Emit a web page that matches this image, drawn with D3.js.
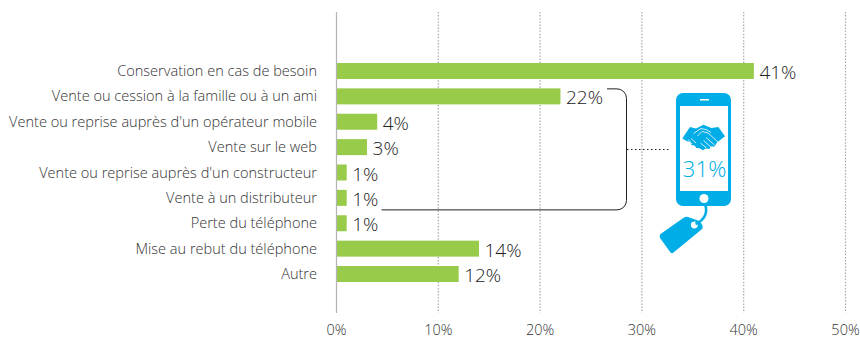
<!DOCTYPE html>
<html>
<head>
<meta charset="utf-8">
<script src="https://cdn.jsdelivr.net/npm/d3@7/dist/d3.min.js"></script>
<style>
html,body{margin:0;padding:0;background:#fff;}
svg{display:block;font-family:"Open Sans",sans-serif;}
</style>
</head>
<body>
<svg id="chart" width="860" height="338"></svg>
<script>
const categories = [
  "Conservation en cas de besoin",
  "Vente ou cession à la famille ou à un ami",
  "Vente ou reprise auprès d'un opérateur mobile",
  "Vente sur le web",
  "Vente ou reprise auprès d'un constructeur",
  "Vente à un distributeur",
  "Perte du téléphone",
  "Mise au rebut du téléphone",
  "Autre"
];
const shares = [41, 22, 4, 3, 1, 1, 1, 14, 12];
const axisTicks = [0, 10, 20, 30, 40, 50];
const groupedTotal = "31%";

const svg = d3.select("#chart");
const x = d3.scaleLinear().domain([0, 50]).range([336.5, 845.5]);
const y = d3.scaleBand().domain(categories).range([58.3, 286.7]).paddingInner(0.37).paddingOuter(0.185);

// Dotted gridlines for every tick after zero
svg.append("g").selectAll("line").data(axisTicks.slice(1)).join("line")
  .attr("x1", d => x(d)).attr("x2", d => x(d)).attr("y1", 12).attr("y2", 313)
  .attr("stroke", "#a8a8a8").attr("stroke-width", 1.2).attr("stroke-dasharray", "1.5 1.6");

// Bars
svg.append("g").selectAll("rect").data(shares).join("rect")
  .attr("x", x(0)).attr("y", (d, i) => y(categories[i]))
  .attr("width", d => x(d) - x(0)).attr("height", y.bandwidth())
  .attr("fill", "#97cb49");

// Zero baseline
svg.append("line").attr("x1", x(0)).attr("x2", x(0)).attr("y1", 12).attr("y2", 313)
  .attr("stroke", "#b4b4b4").attr("stroke-width", 1.2);

// Category labels
svg.append("g").selectAll("text").data(categories).join("text")
  .attr("x", 317).attr("y", d => y(d) + y.bandwidth() / 2 + 5)
  .attr("text-anchor", "end").attr("font-size", 14.55).attr("font-weight", 300)
  .attr("fill", "#333").text(d => d);

// Value labels
svg.append("g").selectAll("text").data(shares).join("text")
  .attr("x", d => x(d) + 5.5).attr("y", (d, i) => y(categories[i]) + y.bandwidth() / 2 + 8)
  .attr("font-size", 19).attr("font-weight", 300).attr("fill", "#222").text(d => d + "%");

// Axis tick labels
svg.append("g").selectAll("text").data(axisTicks).join("text")
  .attr("x", d => x(d)).attr("y", 335)
  .attr("text-anchor", "middle").attr("font-size", 14.5).attr("font-weight", 300)
  .attr("fill", "#333").text(d => d + "%");

// Bracket joining the resale categories
const bracketTop = y(categories[1]) + y.bandwidth() / 2 - 7.5;
const bracketBottom = y(categories[5]) + y.bandwidth() / 2 + 12;
svg.append("path")
  .attr("d", `M607 ${bracketTop}H617a9.5 9.5 0 0 1 9.5 9.5V${bracketBottom - 9.5}a9.5 9.5 0 0 1 -9.5 9.5H381.5`)
  .attr("fill", "none").attr("stroke", "#222").attr("stroke-width", 1);
svg.append("line").attr("x1", 627).attr("x2", 671).attr("y1", 149.5).attr("y2", 149.5)
  .attr("stroke", "#222").attr("stroke-width", 1).attr("stroke-dasharray", "1.5 2.5");

// Phone pictogram with price tag
const blue = "#00ade6";
const phone = svg.append("g");
phone.append("path")
  .attr("d", "M660.5 234L684 217.5Q686 216.5 688 217L698 220.5Q700 221.5 701 223L702.7 226Q703 228 701.5 229.5L673.5 252.5Q672 253.8 670.5 252.5L660 238Q659 235.5 660.5 234Z")
  .attr("fill", blue);
phone.append("circle").attr("cx", 694.3).attr("cy", 225).attr("r", 3.4).attr("fill", "#fff");
phone.append("path")
  .attr("d", "M705 204C708 212 705 220 695.5 224")
  .attr("fill", "none").attr("stroke", blue).attr("stroke-width", 2.6);
phone.append("rect").attr("x", 676).attr("y", 93).attr("width", 55).attr("height", 113).attr("rx", 7).attr("fill", blue);
phone.append("rect").attr("x", 680).attr("y", 106).attr("width", 48).attr("height", 85).attr("fill", "#fff");
phone.append("rect").attr("x", 700).attr("y", 99).attr("width", 9).attr("height", 1.5).attr("fill", "#fff");
phone.append("circle").attr("cx", 704).attr("cy", 198.5).attr("r", 4.5).attr("fill", "#fff");

// Handshake glyph: filled silhouette, scalloped fingers below, white strokes on top
phone.append("path")
  .attr("d", "M682.3 138.5L690 127L696 128.5L703.5 124.7L711.5 128L718.3 127L725 136.3L717 142.5L714.5 146.5L710.5 146.5L709.5 149L705.5 148.6L703 150.3L699.5 148.3L696.5 148L694.5 145.5L691.5 145L690 142L686.5 141Z")
  .attr("fill", blue);
phone.append("path")
  .attr("d", "M693.5 133.5L701 128.5L706 129.5L711 132.5M697.5 136L702 131.5L708 133L718 142M706 137.5L714.5 145M703.5 140.5L711 147M700.5 143L706.5 148M691 138.5L696 143M688 139.5L692 144")
  .attr("fill", "none").attr("stroke", "#fff").attr("stroke-width", 0.8);

phone.append("text").attr("x", 704.5).attr("y", 177)
  .attr("text-anchor", "middle").attr("font-size", 22.5).attr("font-weight", 300)
  .attr("fill", blue).text(groupedTotal);
</script>
</body>
</html>
